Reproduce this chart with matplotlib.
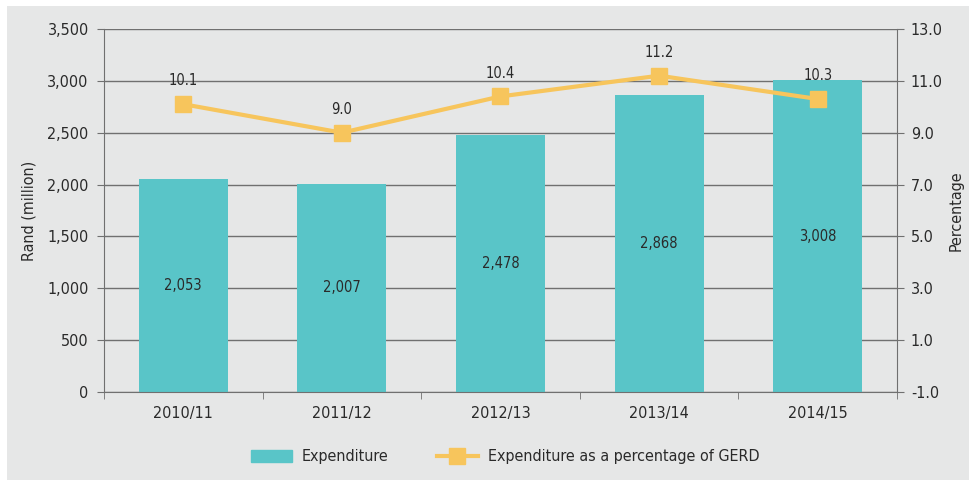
import matplotlib.pyplot as plt
import matplotlib.patches as mpatches
from matplotlib.ticker import FuncFormatter

years = ["2010/11", "2011/12", "2012/13", "2013/14", "2014/15"]
expenditure = [2053, 2007, 2478, 2868, 3008]
pct_gerd = [10.1, 9.0, 10.4, 11.2, 10.3]

bar_color = "#59c5c8"
line_color = "#f7c55c"
grid_color = "#707070"
text_color = "#2a2a2a"
bg_color = "#e6e7e7"

plt.rcParams['font.family'] = ['DejaVu Sans']
plt.rcParams['font.stretch'] = 'condensed'
plt.rcParams['font.size'] = 11

fig = plt.figure(figsize=(9.7, 4.8), dpi=100, facecolor="white")
# grey panel behind the chart
fig.patches.append(mpatches.Rectangle((7 / 970, 0), 1, 1 - 6 / 480, transform=fig.transFigure,
                                      facecolor=bg_color, edgecolor="none", zorder=-5))

ax = fig.add_axes([104 / 970, 88 / 480, 793 / 970, 363 / 480])
ax.set_facecolor("none")
x = list(range(len(years)))

ax.bar(x, expenditure, width=0.56, color=bar_color, zorder=2)
for xi, v in zip(x, expenditure):
    ax.text(xi, v / 2, f"{v:,}", ha="center", va="center", color=text_color, fontsize=10.5, zorder=5)

ax.set_ylim(0, 3500)
ax.set_yticks(range(0, 3501, 500))
ax.yaxis.set_major_formatter(FuncFormatter(lambda v, p: f"{int(v):,}"))
ax.set_xlim(-0.5, len(years) - 0.5)
ax.set_xticks(x)
ax.set_xticklabels(years)
ax.set_xticks([i - 0.5 for i in range(len(years) + 1)], minor=True)
ax.tick_params(axis="x", which="major", length=0, pad=10, colors=text_color, labelsize=11.5)
ax.tick_params(axis="x", which="minor", length=5, color=grid_color)
ax.tick_params(axis="y", length=5, color=grid_color, labelcolor=text_color, labelsize=11.5, pad=6)
ax.grid(axis="y", color=grid_color, linewidth=1, zorder=1)
ax.set_axisbelow(True)
for s in ["top", "right"]:
    ax.spines[s].set_visible(False)
for s in ["left", "bottom"]:
    ax.spines[s].set_color(grid_color)
ax.set_ylabel("Rand (million)", color=text_color, fontsize=11.5, labelpad=8)

ax2 = ax.twinx()
ax2.set_ylim(-1, 13)
ax2.set_yticks([-1, 1, 3, 5, 7, 9, 11, 13])
ax2.yaxis.set_major_formatter(FuncFormatter(lambda v, p: f"{v:.1f}"))
ax2.plot(x, pct_gerd, color=line_color, linewidth=3, marker="s", markersize=12, zorder=4)
for xi, v in zip(x, pct_gerd):
    ax2.text(xi, v + 0.9, f"{v:.1f}", ha="center", va="center", color=text_color, fontsize=10.5)
for s in ["top", "left", "bottom"]:
    ax2.spines[s].set_visible(False)
ax2.spines["right"].set_color(grid_color)
ax2.tick_params(axis="y", length=5, color=grid_color, labelcolor=text_color, labelsize=11.5, pad=5)
ax2.set_ylabel("Percentage", color=text_color, fontsize=11.5, labelpad=4)

handles = [
    mpatches.Patch(color=bar_color, label="Expenditure"),
    plt.Line2D([0], [0], color=line_color, linewidth=3, marker="s", markersize=12,
               label="Expenditure as a percentage of GERD"),
]
fig.legend(handles=handles, loc="center", bbox_to_anchor=(505 / 970, 1 - 457 / 480), ncol=2,
           frameon=False, fontsize=11.5, handlelength=2.6, handletextpad=0.6, columnspacing=3,
           labelcolor=text_color)

fig.savefig("out.png", dpi=100, facecolor=fig.get_facecolor())
